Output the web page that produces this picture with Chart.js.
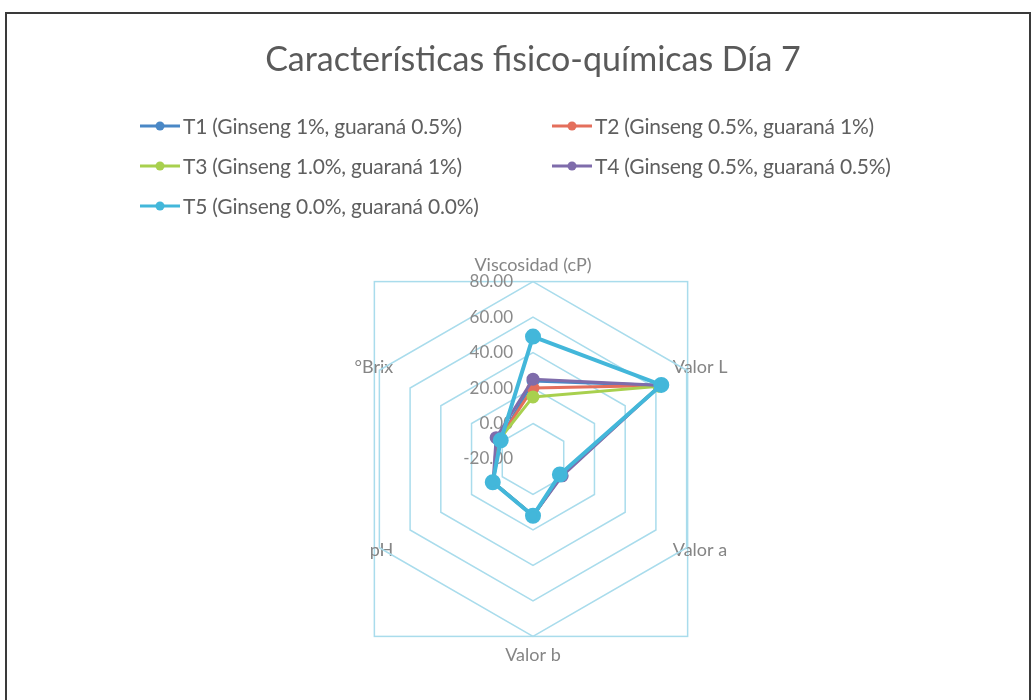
<!DOCTYPE html>
<html>
<head>
<meta charset="utf-8">
<script src="https://cdn.jsdelivr.net/npm/chart.js@4.4.1/dist/chart.umd.min.js"></script>
<style>
    body { margin: 0; background: #fff; font-family: Lato, "Open Sans", sans-serif; }
    #frame { position: absolute; left: 5px; top: 12px; width: 1026px; height: 700px; border: 2px solid #3a3a3a; box-sizing: border-box; }
    #chartBox { position: absolute; left: 0; top: 0; width: 1034px; height: 700px; }
    #legend { position: absolute; left: 140px; top: 113px; display: grid; grid-template-columns: 412px 400px; row-gap: 15px; }
    .legendItem { display: flex; align-items: center; height: 25px; color: #5f5f5f; font-size: 21px; white-space: nowrap; letter-spacing: -0.2px; }
    .legendItem canvas { margin-right: 3px; }
</style>
</head>
<body>
<div id="frame"></div>
<div id="chartBox"><canvas id="radar"></canvas></div>
<div id="legend"></div>
<script>
const axisLabels = ['Viscosidad (cP)', 'Valor L', 'Valor a', 'Valor b', 'pH', '°Brix'];
const seriesNames = [
    'T1 (Ginseng 1%, guaraná 0.5%)',
    'T2 (Ginseng 0.5%, guaraná 1%)',
    'T3 (Ginseng 1.0%, guaraná 1%)',
    'T4 (Ginseng 0.5%, guaraná 0.5%)',
    'T5 (Ginseng 0.0%, guaraná 0.0%)'
];
const t1Values = [24, 63, -2, 12, 6, 1.5];
const t2Values = [20, 63, -1.5, 12, 6, 2];
const t3Values = [15, 62, -1.5, 12, 6, 2];
const t4Values = [25, 63, -1, 12, 6, 4];
const t5Values = [49, 63.5, -2.5, 12, 6.2, 1];
const tickValues = [-20, 0, 20, 40, 60, 80];

const seriesValues = [t1Values, t2Values, t3Values, t4Values, t5Values];
const seriesColors = ['#4a88c6', '#e46f5c', '#a8d04e', '#7f6cab', '#43b7da'];
const gridColor = '#a9dcec';

const datasets = seriesNames.map((name, i) => ({
    label: name,
    data: seriesValues[i],
    borderColor: seriesColors[i],
    backgroundColor: seriesColors[i],
    pointBackgroundColor: seriesColors[i],
    pointBorderColor: seriesColors[i],
    borderWidth: i === 4 ? 4 : 3,
    pointRadius: i === 4 ? 6 : 5,
    fill: false,
    // T5 on top, then T4 ...
    order: 4 - i
}));

// tick labels drawn by hand, Chart.js skips the first one (-20) on radial scales
const tickLabelPlugin = {
    id: 'tickLabels',
    beforeDatasetsDraw(chart) {
        const scale = chart.scales.r;
        const ctx = chart.ctx;
        ctx.save();
        ctx.font = '17px Lato';
        ctx.fillStyle = '#8a8a8a';
        ctx.textAlign = 'right';
        ctx.textBaseline = 'middle';
        tickValues.forEach(v => {
            const d = scale.getDistanceFromCenterForValue(v);
            ctx.fillText(v.toFixed(2), scale.xCenter - 20, scale.yCenter - d);
        });
        ctx.restore();
    },
    beforeDraw(chart) {
        // box around the outer ring, like the plot area border in the original
        const scale = chart.scales.r;
        const r = scale.getDistanceFromCenterForValue(80);
        const right = scale.getPointPosition(1, r).x;
        const left = scale.getPointPosition(4, r).x;
        const ctx = chart.ctx;
        ctx.save();
        ctx.strokeStyle = gridColor;
        ctx.lineWidth = 1.5;
        ctx.strokeRect(left - 5, scale.yCenter - r, right - left + 6, 2 * r);
        ctx.restore();
    }
};

const chart = new Chart(document.getElementById('radar'), {
    type: 'radar',
    data: { labels: axisLabels, datasets: datasets },
    options: {
        responsive: true,
        maintainAspectRatio: false,
        animation: false,
        layout: { padding: { left: 48, right: 16, bottom: 33, top: 0 } },
        plugins: {
            legend: { display: false },
            tooltip: { enabled: false },
            title: {
                display: true,
                text: 'Características fisico-químicas Día 7',
                color: '#5a5a5a',
                font: { family: 'Lato', size: 34, weight: 'normal' },
                padding: { top: 40, bottom: 174 }
            }
        },
        elements: { line: { tension: 0 } },
        scales: {
            r: {
                min: -20,
                max: 80,
                ticks: { stepSize: 20, display: false },
                grid: { color: gridColor, lineWidth: 1.5, circular: false },
                angleLines: { display: false },
                pointLabels: {
                    color: '#858585',
                    font: { family: 'Lato', size: 18 },
                    padding: ctx => [6, -16, -16, 8, -16, -16][ctx.index]
                }
            }
        }
    },
    plugins: [tickLabelPlugin]
});

// legend in two columns, built from the datasets
const legendDiv = document.getElementById('legend');
chart.data.datasets.forEach(ds => {
    const item = document.createElement('div');
    item.className = 'legendItem';
    const mark = document.createElement('canvas');
    mark.width = 40;
    mark.height = 12;
    const mctx = mark.getContext('2d');
    mctx.strokeStyle = ds.borderColor;
    mctx.lineWidth = 3;
    mctx.beginPath();
    mctx.moveTo(0, 6);
    mctx.lineTo(40, 6);
    mctx.stroke();
    mctx.fillStyle = ds.borderColor;
    mctx.beginPath();
    mctx.arc(20, 6, 4.5, 0, Math.PI * 2);
    mctx.fill();
    item.appendChild(mark);
    const text = document.createElement('span');
    text.textContent = ds.label;
    item.appendChild(text);
    legendDiv.appendChild(item);
});
</script>
</body>
</html>
